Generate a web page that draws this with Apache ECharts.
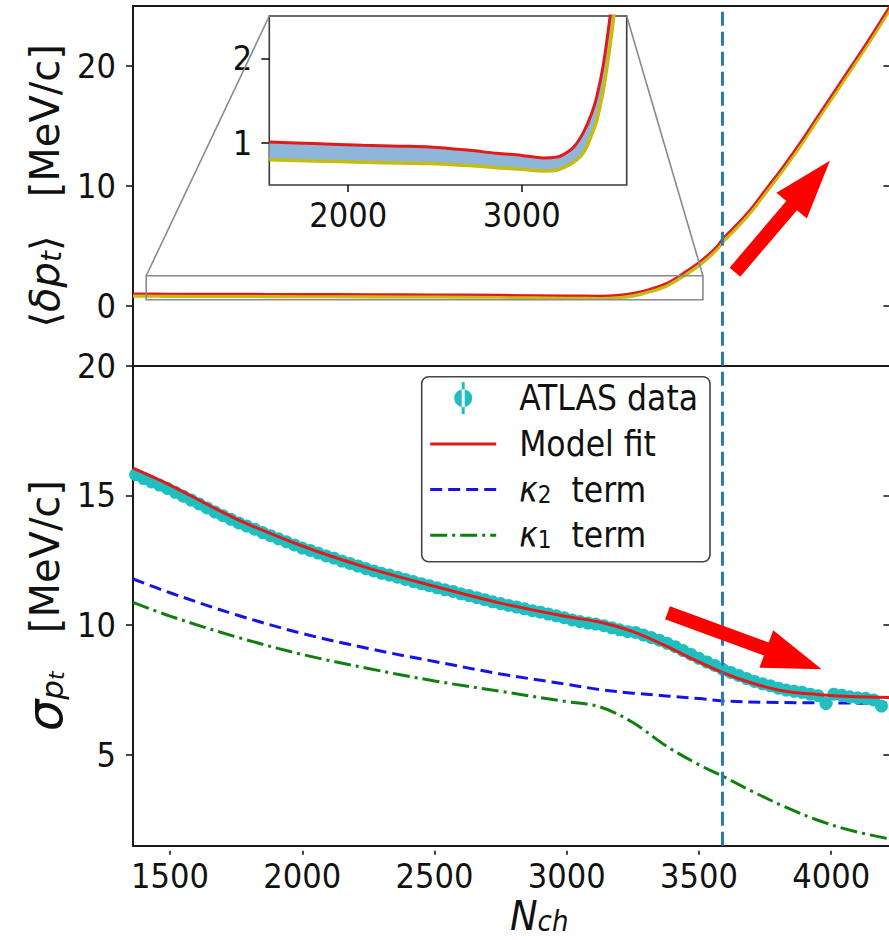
<!DOCTYPE html>
<html>
<head>
<meta charset="utf-8">
<script src="https://cdn.jsdelivr.net/npm/echarts@6/dist/echarts.min.js"></script>
<style>
  html, body { margin: 0; padding: 0; background: #ffffff; }
  #chart { width: 889px; height: 940px; }
</style>
</head>
<body>
<div id="chart"></div>
<script>
// ---- shared multiplicity axis ----
const nRange = [1360, 4220];
const nTicks = [1500, 2000, 2500, 3000, 3500, 4000];
const nCritical = 3588;

// ---- upper panel: <δp_t> band ----
const bandN     = [1360, 1500, 1750, 2000, 2250, 2500, 2750, 3000, 3125, 3200, 3250, 3315, 3378, 3440, 3504, 3567, 3590, 3630, 3693, 3756, 3819, 3882, 3945, 4008, 4071, 4134, 4220];
const bandUpper = [1.02, 1.00, 0.99, 0.97, 0.96, 0.94, 0.90, 0.85, 0.83, 0.90, 1.05, 1.40, 1.90, 2.72, 3.70, 4.95, 5.62, 6.50, 8.02, 9.83, 11.65, 13.60, 15.70, 17.78, 19.86, 21.95, 24.95];
const bandLower = [0.81, 0.80, 0.79, 0.77, 0.76, 0.75, 0.72, 0.68, 0.66, 0.70, 0.82, 1.18, 1.66, 2.45, 3.42, 4.66, 5.33, 6.20, 7.72, 9.53, 11.35, 13.30, 15.40, 17.48, 19.56, 21.65, 24.65];
const deltaTicks = [0, 10, 20];

// ---- zoomed view of the band ----
const zoomN     = [1545, 1800, 2086, 2300, 2471, 2700, 2856, 3000, 3125, 3200, 3240, 3300, 3355, 3400, 3433, 3470, 3509, 3530, 3560];
const zoomUpper = [1.01, 0.99, 0.97, 0.96, 0.95, 0.91, 0.875, 0.85, 0.82, 0.83, 0.86, 0.95, 1.12, 1.33, 1.55, 1.92, 2.49, 2.85, 3.50];
const zoomLower = [0.80, 0.785, 0.77, 0.76, 0.755, 0.73, 0.705, 0.685, 0.666, 0.675, 0.705, 0.77, 0.88, 1.08, 1.27, 1.62, 2.15, 2.49, 3.10];
const zoomNRange = [1545, 3605];
const zoomYRange = [0.5, 2.5];
const zoomNTicks = [2000, 3000];
const zoomYTicks = [1, 2];
const zoomBoxN = [1410, 3515];
const zoomBoxY = [0.5, 2.5];

// ---- lower panel: sigma_pt ----
const atlasN = [1370, 1400, 1430, 1460, 1490, 1520, 1550, 1580, 1610, 1640, 1670, 1700, 1730, 1760, 1790, 1820, 1850, 1880, 1910, 1940,
                1970, 2000, 2030, 2060, 2090, 2120, 2150, 2180, 2210, 2240, 2270, 2300, 2330, 2360, 2390, 2420, 2450, 2480, 2510, 2540,
                2570, 2600, 2630, 2660, 2690, 2720, 2750, 2780, 2810, 2840, 2870, 2900, 2930, 2960, 2990, 3020, 3050, 3080, 3110, 3140,
                3170, 3200, 3230, 3260, 3290, 3320, 3350, 3380, 3410, 3440, 3470, 3500, 3530, 3560, 3590, 3620, 3650, 3680, 3710, 3740,
                3770, 3800, 3830, 3860, 3890, 3920, 3950, 3980, 4010, 4040, 4070, 4100, 4130, 4160, 4190];
const atlasSigma = [15.80, 15.65, 15.52, 15.40, 15.27, 15.12, 14.97, 14.82, 14.67, 14.52, 14.36, 14.22, 14.08, 13.94, 13.82, 13.70, 13.57, 13.45, 13.33, 13.21,
                    13.09, 12.97, 12.88, 12.78, 12.67, 12.58, 12.47, 12.38, 12.28, 12.18, 12.09, 12.00, 11.93, 11.85, 11.76, 11.68, 11.60, 11.52, 11.44, 11.36,
                    11.30, 11.21, 11.14, 11.06, 10.98, 10.90, 10.83, 10.76, 10.70, 10.63, 10.56, 10.50, 10.43, 10.36, 10.29, 10.20, 10.14, 10.08, 10.04, 9.98,
                    9.90, 9.82, 9.75, 9.72, 9.62, 9.52, 9.42, 9.30, 9.17, 9.02, 8.87, 8.72, 8.58, 8.45, 8.30, 8.18, 8.06, 7.94, 7.83, 7.74,
                    7.66, 7.57, 7.50, 7.45, 7.41, 7.34, 7.28, 6.98, 7.34, 7.30, 7.24, 7.20, 7.18, 7.12, 6.88];
const fitN     = [1360, 1500, 1750, 2000, 2250, 2500, 2750, 3000, 3125, 3250, 3375, 3475, 3590, 3700, 3820, 3945, 4070, 4220];
const fitSigma = [16.05, 15.40, 14.10, 13.05, 12.20, 11.50, 10.85, 10.33, 10.12, 9.75, 9.20, 8.70, 8.17, 7.77, 7.46, 7.33, 7.25, 7.21];
const k2N     = [1360, 1500, 1750, 2000, 2250, 2500, 2750, 3000, 3125, 3250, 3500, 3590, 3750, 4000, 4220];
const k2Sigma = [11.78, 11.25, 10.40, 9.68, 9.10, 8.60, 8.12, 7.72, 7.52, 7.38, 7.17, 7.08, 7.03, 7.00, 6.99];
const k1N     = [1360, 1500, 1750, 2000, 2250, 2500, 2750, 3000, 3125, 3250, 3375, 3500, 3590, 3700, 3820, 3945, 4070, 4220];
const k1Sigma = [10.88, 10.35, 9.55, 8.87, 8.33, 7.85, 7.45, 7.05, 6.85, 6.25, 5.35, 4.62, 4.18, 3.60, 3.02, 2.50, 2.10, 1.76];
const sigmaTicks = [5, 10, 15, 20];

// annotation arrows: [tail N, tail value, tip N, tip value]
const arrowUp   = [3636, 2.8, 3995, 12.1];
const arrowDown = [3381, 10.48, 3964, 8.3];

// ---------------------------------------------------------------
const TICK_FONT = '"DejaVu Sans Condensed", "DejaVu Sans", sans-serif';
const NAME_FONT = '"DejaVu Sans", sans-serif';
const INK = '#111111';
const RED = '#e31a1c';
const YELLOW = '#c6bd12';
const TEAL = '#1fbfbf';
const BLUE = '#1414e6';
const GREEN = '#0f800f';
const CLEAR = 'rgba(0,0,0,0)';

const pairs = (xs, ys) => xs.map((x, i) => [x, ys[i]]);
const plain = (v) => String(v);

const chart = echarts.init(document.getElementById('chart'), null, { renderer: 'svg' });

const spine = { show: true, onZero: false, lineStyle: { color: '#1a1a1a', width: 2 } };
const noLine = { show: false, onZero: false };
const tickStyle = { color: '#1a1a1a', width: 1.6 };
const labelStyle = { color: INK, fontFamily: TICK_FONT, fontSize: 34, formatter: plain };

function bandSeries(xi, yi, ns, up, lo) {
  return {
    type: 'custom', xAxisIndex: xi, yAxisIndex: yi, silent: true, clip: true, z: 1,
    data: [[ns[0], up[0]]],
    renderItem(params, api) {
      const pts = ns.map((n, i) => api.coord([n, up[i]]));
      for (let i = ns.length - 1; i >= 0; i--) pts.push(api.coord([ns[i], lo[i]]));
      return { type: 'polygon', shape: { points: pts }, style: { fill: '#8db6d9' } };
    }
  };
}

function edgeLine(xi, yi, ns, vs, color, width, z) {
  return {
    type: 'line', xAxisIndex: xi, yAxisIndex: yi, data: pairs(ns, vs), symbol: 'none',
    smooth: 0.35, clip: true, silent: true, z: z,
    lineStyle: { color: color, width: width }
  };
}

function arrowSeries(xi, yi, seg) {
  return {
    type: 'custom', xAxisIndex: xi, yAxisIndex: yi, silent: true, z: 20,
    data: [seg], encode: { x: [0, 2], y: [1, 3] },
    renderItem(params, api) {
      const s = api.coord([api.value(0), api.value(1)]);
      const e = api.coord([api.value(2), api.value(3)]);
      const dx = e[0] - s[0], dy = e[1] - s[1], len = Math.hypot(dx, dy);
      const ux = dx / len, uy = dy / len, nx = -uy, ny = ux;
      const headLen = 59, headHalf = 20, shaftHalf = 7;
      const bx = e[0] - ux * headLen, by = e[1] - uy * headLen;
      const off = (x, y, k) => [x + nx * k, y + ny * k];
      return {
        type: 'polygon',
        shape: { points: [off(s[0], s[1], shaftHalf), off(bx, by, shaftHalf), off(bx, by, headHalf), e,
                          off(bx, by, -headHalf), off(bx, by, -shaftHalf), off(s[0], s[1], -shaftHalf)] },
        style: { fill: '#ff0000' }
      };
    }
  };
}

const vline = {
  silent: true, symbol: 'none', label: { show: false },
  lineStyle: { color: '#2a7ab5', type: [14, 6], width: 3 },
  data: [{ xAxis: nCritical }]
};

const legendNames = {
  'ATLAS data': 'ATLAS data',
  'Model fit': 'Model fit',
  'κ2 term': '{k|κ}{s|2}{t|  term}',
  'κ1 term': '{k|κ}{s|1}{t|  term}'
};
const hiddenMarker = { color: CLEAR, borderColor: CLEAR, borderWidth: 0 };

const option = {
  animation: false,
  backgroundColor: '#ffffff',
  grid: [
    { left: 133, top: 6, width: 756.4, height: 359.7, outerBoundsMode: 'none' },
    { left: 133, top: 365.7, width: 756.4, height: 480, outerBoundsMode: 'none' },
    { left: 269.3, top: 16, width: 357.4, height: 169, outerBoundsMode: 'none', show: true,
      backgroundColor: '#ffffff', borderColor: '#3a3a3a', borderWidth: 1.6 }
  ],
  xAxis: [
    { gridIndex: 0, type: 'value', min: nRange[0], max: nRange[1], position: 'bottom',
      axisLine: spine, axisTick: { show: false }, axisLabel: { show: false }, splitLine: { show: false } },
    { gridIndex: 0, type: 'value', min: nRange[0], max: nRange[1], position: 'top',
      axisLine: spine, axisTick: { show: false }, axisLabel: { show: false }, splitLine: { show: false } },
    { gridIndex: 1, type: 'value', min: nRange[0], max: nRange[1], position: 'bottom',
      axisLine: spine, axisTick: { show: false }, splitLine: { show: false },
      axisLabel: Object.assign({ customValues: nTicks, margin: 13 }, labelStyle),
      name: '{n|N}{c|ch}', nameLocation: 'middle', nameGap: 50, nameMoveOverlap: false,
      nameTextStyle: {
        padding: [0, 0, 0, 56],
        rich: {
          n: { fontFamily: TICK_FONT, fontStyle: 'italic', fontSize: 41, lineHeight: 40, color: INK },
          c: { fontFamily: TICK_FONT, fontStyle: 'italic', fontSize: 29, lineHeight: 22, verticalAlign: 'bottom', color: INK }
        }
      } },
    { gridIndex: 1, type: 'value', min: nRange[0], max: nRange[1], position: 'bottom', offset: 5,
      axisLine: noLine, axisLabel: { show: false }, splitLine: { show: false },
      axisTick: { show: true, length: 4, customValues: nTicks, lineStyle: tickStyle } },
    { gridIndex: 2, type: 'value', min: zoomNRange[0], max: zoomNRange[1], position: 'bottom',
      axisLine: noLine, splitLine: { show: false },
      axisTick: { show: true, length: 7, customValues: zoomNTicks, lineStyle: tickStyle },
      axisLabel: Object.assign({ customValues: zoomNTicks, margin: 13 }, labelStyle) }
  ],
  yAxis: [
    { gridIndex: 0, type: 'value', min: -5, max: 25, position: 'left',
      axisLine: spine, splitLine: { show: false },
      axisTick: { show: true, length: 7, customValues: deltaTicks, lineStyle: tickStyle },
      axisLabel: Object.assign({ customValues: deltaTicks, margin: 17 }, labelStyle),
      name: '{a|⟨}{i|δp}{s|t}{a|⟩   [MeV/c]}', nameLocation: 'middle', nameRotate: 90, nameGap: 68,
      nameMoveOverlap: false,
      nameTextStyle: {
        rich: {
          a: { fontFamily: NAME_FONT, fontSize: 40, lineHeight: 40, color: INK },
          i: { fontFamily: NAME_FONT, fontStyle: 'italic', fontSize: 40, lineHeight: 40, color: INK },
          s: { fontFamily: NAME_FONT, fontStyle: 'italic', fontSize: 28, lineHeight: 20, verticalAlign: 'bottom', color: INK }
        }
      } },
    { gridIndex: 0, type: 'value', min: -5, max: 25, position: 'right',
      axisLine: noLine, axisLabel: { show: false }, splitLine: { show: false },
      axisTick: { show: true, inside: true, length: 6, customValues: deltaTicks, lineStyle: tickStyle } },
    { gridIndex: 1, type: 'value', min: 1.5, max: 20, position: 'left',
      axisLine: spine, splitLine: { show: false },
      axisTick: { show: true, length: 7, customValues: sigmaTicks, lineStyle: tickStyle },
      axisLabel: Object.assign({ customValues: sigmaTicks, margin: 17 }, labelStyle),
      name: '{g|σ}{p|p}{t|t}{a|   [MeV/c]}', nameLocation: 'middle', nameRotate: 90, nameGap: 66,
      nameMoveOverlap: false,
      nameTextStyle: {
        rich: {
          a: { fontFamily: NAME_FONT, fontSize: 40, lineHeight: 44, color: INK },
          g: { fontFamily: NAME_FONT, fontStyle: 'italic', fontSize: 50, lineHeight: 44, color: INK },
          p: { fontFamily: NAME_FONT, fontStyle: 'italic', fontSize: 31, lineHeight: 26, verticalAlign: 'bottom', color: INK },
          t: { fontFamily: NAME_FONT, fontStyle: 'italic', fontSize: 22, lineHeight: 8, verticalAlign: 'bottom', color: INK }
        }
      } },
    { gridIndex: 1, type: 'value', min: 1.5, max: 20, position: 'right',
      axisLine: noLine, axisLabel: { show: false }, splitLine: { show: false },
      axisTick: { show: true, inside: true, length: 6, customValues: sigmaTicks, lineStyle: tickStyle } },
    { gridIndex: 2, type: 'value', min: zoomYRange[0], max: zoomYRange[1], position: 'left',
      axisLine: noLine, splitLine: { show: false },
      axisTick: { show: true, length: 8, customValues: zoomYTicks, lineStyle: tickStyle },
      axisLabel: Object.assign({ customValues: zoomYTicks, margin: 17 }, labelStyle) }
  ],
  legend: {
    orient: 'vertical', left: 421.7, top: 376.7,
    itemWidth: 66, itemHeight: 32, itemGap: 10.7,
    padding: [4, 12, 9, 7],
    backgroundColor: '#ffffff', borderColor: '#454545', borderWidth: 1.6, borderRadius: 7,
    selectedMode: false,
    textStyle: {
      fontFamily: TICK_FONT, fontSize: 35, lineHeight: 34, color: INK, padding: [0, 0, 0, 18],
      rich: {
        k: { fontFamily: TICK_FONT, fontStyle: 'italic', fontSize: 35, lineHeight: 34, color: INK },
        s: { fontFamily: TICK_FONT, fontSize: 24, lineHeight: 14, verticalAlign: 'bottom', color: INK },
        t: { fontFamily: TICK_FONT, fontSize: 35, lineHeight: 34, color: INK }
      }
    },
    formatter: (name) => legendNames[name],
    data: [
      { name: 'ATLAS data', icon: 'path://M7.5,0H10.5V32H7.5Z M0,16A9,9,0,1,0,18,16A9,9,0,1,0,0,16Z', itemStyle: { color: TEAL } },
      { name: 'Model fit', itemStyle: hiddenMarker, lineStyle: { width: 3, color: RED } },
      { name: 'κ2 term', itemStyle: hiddenMarker, lineStyle: { width: 3, color: BLUE, type: [12, 6] } },
      { name: 'κ1 term', itemStyle: hiddenMarker, lineStyle: { width: 3, color: GREEN, type: [17, 5, 3, 5] } }
    ]
  },
  series: [
    // upper panel
    bandSeries(0, 0, bandN, bandUpper, bandLower),
    edgeLine(0, 0, bandN, bandLower, YELLOW, 3.5, 3),
    Object.assign(edgeLine(0, 0, bandN, bandUpper, RED, 2.2, 4), { markLine: vline }),
    arrowSeries(0, 0, arrowUp),
    // zoomed view
    bandSeries(4, 4, zoomN, zoomUpper, zoomLower),
    edgeLine(4, 4, zoomN, zoomLower, YELLOW, 3.5, 3),
    edgeLine(4, 4, zoomN, zoomUpper, RED, 3, 4),
    // lower panel
    { name: 'κ1 term', type: 'line', xAxisIndex: 2, yAxisIndex: 2, data: pairs(k1N, k1Sigma),
      symbol: 'none', smooth: 0.35, silent: true, z: 2,
      lineStyle: { color: GREEN, width: 3, type: [17, 5, 3, 5] }, itemStyle: { color: GREEN } },
    { name: 'κ2 term', type: 'line', xAxisIndex: 2, yAxisIndex: 2, data: pairs(k2N, k2Sigma),
      symbol: 'none', smooth: 0.35, silent: true, z: 2,
      lineStyle: { color: BLUE, width: 3, type: [12, 6] }, itemStyle: { color: BLUE } },
    { name: 'ATLAS data', type: 'scatter', xAxisIndex: 2, yAxisIndex: 2, data: pairs(atlasN, atlasSigma),
      symbol: 'circle', symbolSize: 13, silent: true, z: 3, itemStyle: { color: TEAL, opacity: 1 } },
    { name: 'Model fit', type: 'line', xAxisIndex: 2, yAxisIndex: 2, data: pairs(fitN, fitSigma),
      symbol: 'none', smooth: 0.35, silent: true, z: 4,
      lineStyle: { color: RED, width: 3 }, itemStyle: { color: RED }, markLine: vline },
    arrowSeries(2, 2, arrowDown)
  ]
};

chart.setOption(option);

// zoom indicator box and its connectors to the zoomed view
const boxTL = chart.convertToPixel({ gridIndex: 0 }, [zoomBoxN[0], zoomBoxY[1]]);
const boxBR = chart.convertToPixel({ gridIndex: 0 }, [zoomBoxN[1], zoomBoxY[0]]);
const viewTL = chart.convertToPixel({ gridIndex: 2 }, [zoomNRange[0], zoomYRange[1]]);
const viewTR = chart.convertToPixel({ gridIndex: 2 }, [zoomNRange[1], zoomYRange[1]]);
const guide = { stroke: '#8a8a8a', lineWidth: 1.6, fill: null };
chart.setOption({
  graphic: [
    { type: 'rect', silent: true, z: 5,
      shape: { x: boxTL[0], y: boxTL[1], width: boxBR[0] - boxTL[0], height: boxBR[1] - boxTL[1] },
      style: guide },
    { type: 'line', silent: true, z: 5,
      shape: { x1: boxTL[0], y1: boxTL[1], x2: viewTL[0], y2: viewTL[1] }, style: guide },
    { type: 'line', silent: true, z: 5,
      shape: { x1: boxBR[0], y1: boxTL[1], x2: viewTR[0], y2: viewTR[1] }, style: guide }
  ]
});
</script>
</body>
</html>
